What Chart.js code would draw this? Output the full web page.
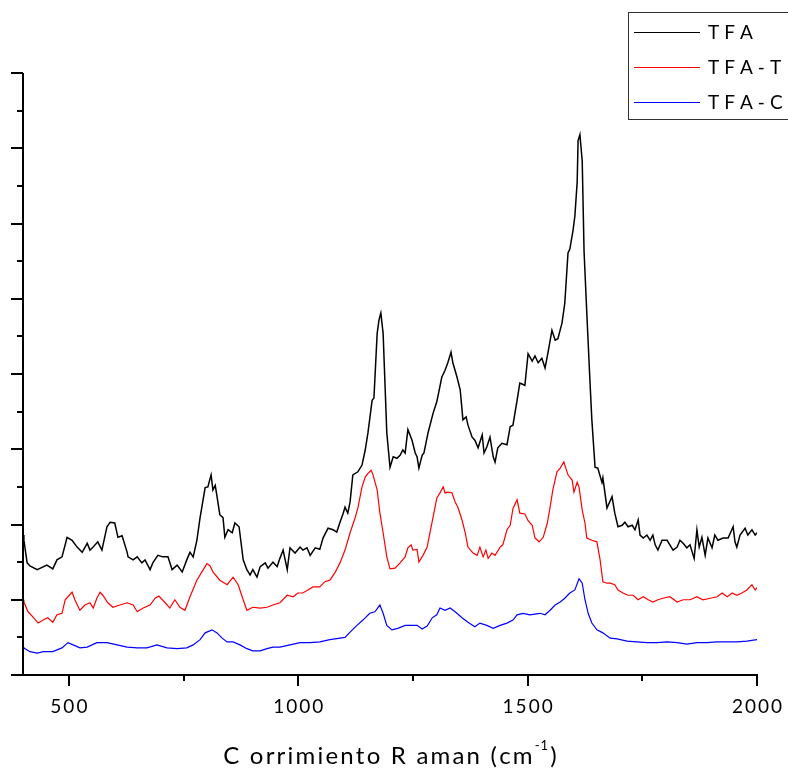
<!DOCTYPE html>
<html>
<head>
<meta charset="utf-8">
<style>
  html, body { margin: 0; padding: 0; background: #fff; }
  canvas { display: block; }
</style>
<script src="https://cdn.jsdelivr.net/npm/chart.js@4.4.7/dist/chart.umd.min.js"></script>
</head>
<body>
<canvas id="chart" width="788" height="769"></canvas>
<script>
// Raman spectra, shift in cm-1, intensity in arbitrary units (offset traces)
var tfaShift = [400, 402, 409, 415, 431, 452, 465, 474, 485, 492, 496, 507, 518, 529, 540, 546, 553, 563, 572, 583, 590, 600, 607, 616, 627, 629, 640, 649, 659, 666, 677, 683, 694, 705, 716, 725, 736, 747, 757, 764, 771, 779, 786, 797, 803, 810, 814, 819, 823, 829, 836, 840, 847, 856, 862, 871, 880, 888, 895, 901, 910, 917, 928, 934, 945, 954, 960, 967, 976, 982, 993, 1004, 1010, 1019, 1026, 1037, 1047, 1054, 1065, 1076, 1084, 1091, 1098, 1102, 1108, 1113, 1119, 1130, 1139, 1146, 1152, 1161, 1165, 1172, 1176, 1180, 1185, 1189, 1193, 1200, 1207, 1215, 1222, 1228, 1233, 1239, 1248, 1255, 1259, 1263, 1270, 1274, 1283, 1294, 1302, 1313, 1320, 1326, 1333, 1337, 1346, 1353, 1359, 1366, 1370, 1379, 1385, 1392, 1401, 1405, 1411, 1418, 1425, 1429, 1435, 1444, 1455, 1462, 1468, 1477, 1483, 1494, 1501, 1510, 1516, 1523, 1531, 1538, 1544, 1553, 1560, 1566, 1575, 1581, 1588, 1592, 1599, 1603, 1608, 1610, 1614, 1619, 1623, 1629, 1636, 1640, 1647, 1653, 1662, 1664, 1673, 1684, 1690, 1697, 1706, 1712, 1719, 1728, 1734, 1741, 1745, 1752, 1760, 1767, 1773, 1778, 1784, 1793, 1804, 1810, 1817, 1826, 1832, 1839, 1847, 1854, 1863, 1869, 1874, 1880, 1887, 1893, 1902, 1908, 1915, 1926, 1937, 1948, 1952, 1956, 1963, 1974, 1980, 1989, 1996, 2000];
var tfaIntensity = [1.86, 1.79, 1.49, 1.45, 1.40, 1.46, 1.41, 1.53, 1.57, 1.73, 1.83, 1.79, 1.70, 1.63, 1.75, 1.66, 1.70, 1.77, 1.66, 1.97, 2.03, 2.02, 1.83, 1.85, 1.63, 1.57, 1.53, 1.57, 1.49, 1.53, 1.40, 1.49, 1.59, 1.57, 1.57, 1.40, 1.46, 1.37, 1.53, 1.63, 1.57, 1.79, 2.09, 2.49, 2.50, 2.66, 2.46, 2.52, 2.37, 2.13, 2.09, 1.83, 1.93, 1.89, 2.02, 1.97, 1.53, 1.40, 1.33, 1.40, 1.30, 1.44, 1.49, 1.42, 1.50, 1.44, 1.55, 1.66, 1.40, 1.69, 1.62, 1.70, 1.66, 1.69, 1.59, 1.69, 1.67, 1.82, 1.95, 1.93, 1.90, 2.03, 2.15, 2.23, 2.15, 2.30, 2.66, 2.70, 2.79, 2.99, 3.22, 3.65, 3.68, 4.54, 4.72, 4.81, 4.54, 3.88, 3.22, 2.76, 2.90, 2.88, 2.92, 2.99, 2.95, 3.26, 3.12, 2.95, 2.90, 2.75, 2.92, 2.95, 3.22, 3.48, 3.63, 3.96, 4.05, 4.15, 4.29, 4.15, 3.96, 3.79, 3.39, 3.43, 3.32, 3.16, 3.12, 3.02, 3.19, 2.95, 3.03, 3.16, 2.90, 2.83, 3.02, 3.08, 3.06, 3.30, 3.32, 3.65, 3.88, 3.85, 4.27, 4.17, 4.24, 4.15, 4.21, 4.08, 4.27, 4.58, 4.45, 4.47, 4.68, 4.94, 5.61, 5.66, 5.91, 6.10, 6.55, 7.10, 7.18, 6.83, 5.63, 4.81, 3.89, 3.39, 2.76, 2.75, 2.56, 2.62, 2.22, 2.37, 2.15, 1.97, 1.99, 2.03, 1.97, 1.99, 1.93, 2.06, 1.86, 1.82, 1.86, 1.79, 1.86, 1.73, 1.66, 1.79, 1.79, 1.73, 1.66, 1.70, 1.79, 1.75, 1.69, 1.73, 1.55, 1.93, 1.70, 1.83, 1.59, 1.82, 1.69, 1.86, 1.79, 1.82, 1.82, 1.97, 1.77, 1.70, 1.86, 1.95, 1.86, 1.93, 1.86, 1.89];

var tfaTShift = [400, 402, 411, 422, 433, 444, 454, 465, 474, 485, 492, 498, 507, 513, 524, 535, 546, 553, 561, 568, 574, 585, 596, 611, 627, 640, 649, 662, 677, 688, 696, 710, 720, 731, 742, 753, 764, 779, 790, 801, 808, 814, 829, 845, 858, 869, 880, 888, 901, 917, 932, 945, 960, 976, 989, 999, 1010, 1021, 1032, 1047, 1058, 1069, 1080, 1091, 1102, 1113, 1124, 1130, 1139, 1146, 1152, 1159, 1163, 1172, 1178, 1185, 1193, 1200, 1211, 1222, 1233, 1239, 1246, 1250, 1259, 1263, 1272, 1281, 1287, 1294, 1302, 1309, 1316, 1320, 1326, 1335, 1342, 1348, 1357, 1364, 1370, 1381, 1390, 1396, 1403, 1409, 1414, 1422, 1429, 1440, 1446, 1455, 1462, 1468, 1477, 1483, 1494, 1501, 1510, 1516, 1525, 1534, 1543, 1549, 1555, 1564, 1571, 1579, 1588, 1597, 1601, 1608, 1612, 1619, 1625, 1629, 1640, 1651, 1658, 1664, 1673, 1680, 1690, 1697, 1708, 1719, 1730, 1741, 1752, 1763, 1773, 1784, 1795, 1810, 1826, 1839, 1854, 1869, 1882, 1898, 1913, 1924, 1935, 1946, 1956, 1967, 1978, 1989, 1996, 2000];
var tfaTIntensity = [1.00, 0.97, 0.84, 0.77, 0.69, 0.73, 0.76, 0.70, 0.80, 0.82, 1.00, 1.04, 1.10, 1.00, 0.86, 0.93, 0.96, 0.89, 1.02, 1.10, 1.06, 0.96, 0.90, 0.93, 0.96, 0.93, 0.84, 0.89, 0.93, 1.02, 1.05, 0.96, 0.89, 1.00, 0.90, 0.86, 1.04, 1.26, 1.37, 1.48, 1.45, 1.37, 1.26, 1.20, 1.30, 1.20, 1.00, 0.86, 0.90, 0.89, 0.90, 0.93, 0.96, 1.06, 1.04, 1.09, 1.09, 1.13, 1.17, 1.17, 1.24, 1.26, 1.36, 1.49, 1.66, 1.89, 2.09, 2.22, 2.50, 2.63, 2.68, 2.72, 2.66, 2.46, 2.15, 1.89, 1.57, 1.41, 1.42, 1.49, 1.57, 1.69, 1.73, 1.66, 1.67, 1.50, 1.59, 1.70, 1.89, 2.10, 2.35, 2.42, 2.50, 2.42, 2.43, 2.42, 2.30, 2.23, 2.06, 1.89, 1.70, 1.62, 1.59, 1.70, 1.57, 1.66, 1.55, 1.62, 1.59, 1.70, 1.73, 1.93, 1.99, 2.21, 2.33, 2.15, 2.14, 2.05, 1.99, 1.82, 1.77, 1.83, 2.02, 2.23, 2.46, 2.70, 2.75, 2.83, 2.66, 2.59, 2.43, 2.56, 2.50, 2.19, 2.02, 1.82, 1.79, 1.77, 1.53, 1.24, 1.22, 1.22, 1.20, 1.13, 1.09, 1.06, 1.06, 1.00, 1.04, 1.00, 0.97, 1.00, 1.02, 1.04, 0.97, 1.00, 1.00, 1.04, 1.00, 1.02, 1.04, 1.09, 1.04, 1.09, 1.06, 1.09, 1.13, 1.20, 1.13, 1.16];

var tfaCShift = [400, 402, 415, 431, 444, 465, 485, 498, 513, 524, 540, 561, 583, 605, 627, 649, 670, 692, 714, 736, 757, 771, 786, 797, 812, 823, 834, 845, 858, 873, 888, 901, 917, 932, 945, 960, 982, 1004, 1026, 1047, 1069, 1091, 1102, 1113, 1128, 1141, 1156, 1167, 1178, 1185, 1193, 1204, 1217, 1233, 1248, 1259, 1270, 1281, 1292, 1302, 1309, 1320, 1331, 1342, 1357, 1370, 1385, 1396, 1411, 1425, 1440, 1455, 1468, 1477, 1490, 1505, 1516, 1527, 1538, 1549, 1560, 1571, 1581, 1592, 1603, 1612, 1619, 1625, 1632, 1640, 1651, 1664, 1680, 1695, 1717, 1738, 1760, 1782, 1804, 1826, 1847, 1869, 1891, 1913, 1935, 1956, 1978, 2000];
var tfaCIntensity = [0.37, 0.36, 0.31, 0.29, 0.31, 0.31, 0.36, 0.43, 0.39, 0.36, 0.37, 0.43, 0.43, 0.40, 0.37, 0.36, 0.36, 0.40, 0.36, 0.35, 0.36, 0.40, 0.47, 0.56, 0.60, 0.56, 0.49, 0.44, 0.44, 0.40, 0.35, 0.32, 0.32, 0.35, 0.37, 0.37, 0.40, 0.43, 0.43, 0.44, 0.47, 0.49, 0.50, 0.57, 0.66, 0.73, 0.82, 0.84, 0.93, 0.82, 0.66, 0.60, 0.62, 0.66, 0.66, 0.66, 0.61, 0.65, 0.76, 0.80, 0.89, 0.86, 0.89, 0.84, 0.76, 0.70, 0.64, 0.69, 0.66, 0.62, 0.66, 0.69, 0.73, 0.80, 0.82, 0.80, 0.81, 0.82, 0.80, 0.86, 0.93, 0.97, 1.02, 1.09, 1.13, 1.28, 1.22, 1.00, 0.82, 0.69, 0.60, 0.56, 0.49, 0.48, 0.45, 0.44, 0.43, 0.43, 0.44, 0.43, 0.41, 0.43, 0.43, 0.44, 0.44, 0.44, 0.45, 0.47];

var seriesNames = ['TFA', 'TFA-T', 'TFA-C'];
var seriesColors = ['#000000', '#ff0000', '#0000ff'];
var xTickLabels = [500, 1000, 1500, 2000];
var xMinorTicks = [750, 1250, 1750];
var yMajorTicks = [0, 1, 2, 3, 4, 5, 6, 7, 8];
var yMinorTicks = [0.5, 1.5, 2.5, 3.5, 4.5, 5.5, 6.5, 7.5];

function toPoints(xs, ys) {
  var pts = [];
  for (var i = 0; i < xs.length; i++) pts.push({ x: xs[i], y: ys[i] });
  return pts;
}

// char by char, so the letter spacing of the original is kept
function spacedWidth(ctx, text, gap) {
  var w = 0;
  for (var i = 0; i < text.length; i++) w += ctx.measureText(text[i]).width + gap;
  return w - gap;
}
function drawSpaced(ctx, text, x, y, gap) {
  for (var i = 0; i < text.length; i++) {
    ctx.fillText(text[i], x, y);
    x += ctx.measureText(text[i]).width + gap;
  }
  return x - gap;
}

// axes, ticks, axis title and the legend box, drawn against the chart scales
var frame = {
  id: 'frame',
  afterDraw: function (chart) {
    var ctx = chart.ctx;
    var xs = chart.scales.x;
    var ys = chart.scales.y;
    var left = xs.getPixelForValue(400);
    var bottom = ys.getPixelForValue(0);
    var top = ys.getPixelForValue(8);
    var right = xs.getPixelForValue(2000);

    ctx.save();
    ctx.strokeStyle = '#000';
    ctx.lineWidth = 2;
    ctx.beginPath();
    ctx.moveTo(left, top);
    ctx.lineTo(left, bottom);
    ctx.lineTo(right + 1, bottom);
    yMajorTicks.forEach(function (v) {
      var y = Math.round(ys.getPixelForValue(v));
      ctx.moveTo(left - 12, y);
      ctx.lineTo(left, y);
    });
    yMinorTicks.forEach(function (v) {
      var y = Math.round(ys.getPixelForValue(v));
      ctx.moveTo(left - 6, y);
      ctx.lineTo(left, y);
    });
    xTickLabels.forEach(function (v) {
      var x = Math.round(xs.getPixelForValue(v));
      ctx.moveTo(x, bottom);
      ctx.lineTo(x, bottom + 11);
    });
    xMinorTicks.forEach(function (v) {
      var x = Math.round(xs.getPixelForValue(v));
      ctx.moveTo(x, bottom);
      ctx.lineTo(x, bottom + 6);
    });
    ctx.stroke();

    ctx.fillStyle = '#000';
    ctx.font = '19px Lato';
    ctx.textAlign = 'left';
    ctx.textBaseline = 'alphabetic';
    xTickLabels.forEach(function (v) {
      var s = String(v);
      var w = spacedWidth(ctx, s, 2);
      drawSpaced(ctx, s, xs.getPixelForValue(v) - w / 2, bottom + 38, 2);
    });

    // axis title with superscript
    var main = 'C orrimiento R aman (cm';
    var sup = '-1';
    var tail = ')';
    var gap = 2.2;
    ctx.font = '24px Lato';
    var wMain = spacedWidth(ctx, main, gap) + gap;
    var wTail = spacedWidth(ctx, tail, gap);
    ctx.font = '13px Lato';
    var wSup = spacedWidth(ctx, sup, 1) + gap;
    var tx = (left + right) / 2 - (wMain + wSup + wTail) / 2;
    var ty = bottom + 89;
    ctx.font = '24px Lato';
    drawSpaced(ctx, main, tx, ty, gap);
    ctx.font = '13px Lato';
    drawSpaced(ctx, sup, tx + wMain, ty - 14, 1);
    ctx.font = '24px Lato';
    drawSpaced(ctx, tail, tx + wMain + wSup, ty, gap);

    // legend
    ctx.lineWidth = 1;
    ctx.strokeStyle = '#333';
    ctx.strokeRect(628.5, 12.5, 200, 107);
    ctx.font = '19px Lato';
    ctx.textBaseline = 'middle';
    var rows = [32, 67, 102];
    seriesNames.forEach(function (name, i) {
      ctx.strokeStyle = seriesColors[i];
      ctx.lineWidth = 1.2;
      ctx.beginPath();
      ctx.moveTo(634, rows[i] + 0.5);
      ctx.lineTo(700, rows[i] + 0.5);
      ctx.stroke();
      drawSpaced(ctx, name, 708, rows[i] + 1, 5);
    });
    ctx.restore();
  },
};

var ctx = document.getElementById('chart').getContext('2d');
new Chart(ctx, {
  type: 'line',
  data: {
    datasets: [
      { label: seriesNames[2], data: toPoints(tfaCShift, tfaCIntensity), borderColor: seriesColors[2], borderWidth: 1.2 },
      { label: seriesNames[1], data: toPoints(tfaTShift, tfaTIntensity), borderColor: seriesColors[1], borderWidth: 1.2 },
      { label: seriesNames[0], data: toPoints(tfaShift, tfaIntensity), borderColor: seriesColors[0], borderWidth: 1.5 },
    ],
  },
  options: {
    responsive: false,
    animation: false,
    elements: { point: { radius: 0 }, line: { tension: 0, fill: false } },
    layout: { padding: { left: 23, right: 31, top: 73, bottom: 94 } },
    plugins: { legend: { display: false }, tooltip: { enabled: false } },
    scales: {
      x: { type: 'linear', min: 400, max: 2000, display: false },
      y: { type: 'linear', min: 0, max: 8, display: false },
    },
  },
  plugins: [frame],
});
</script>
</body>
</html>
